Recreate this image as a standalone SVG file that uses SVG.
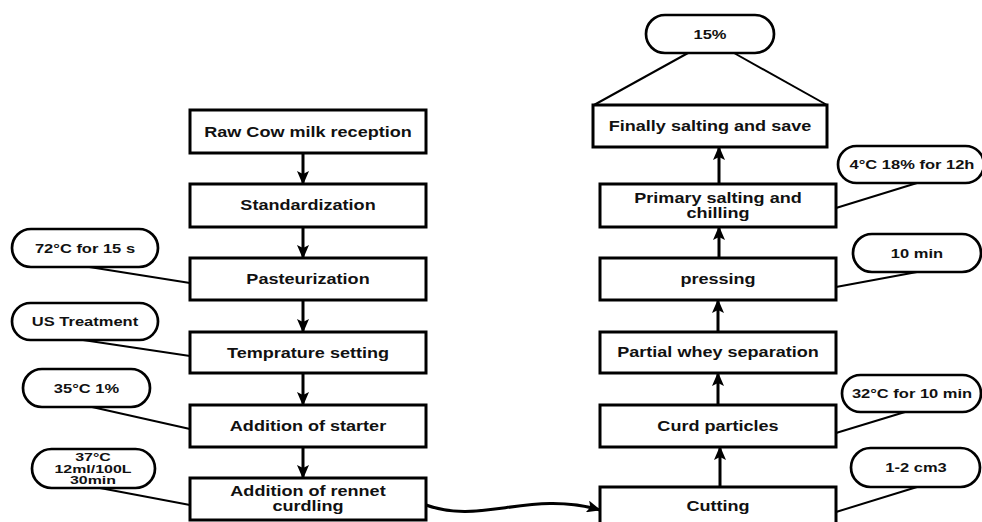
<svg xmlns="http://www.w3.org/2000/svg" width="982" height="522" viewBox="0 0 982 522">
<style>
.box{fill:#fff;stroke:#000;stroke-width:3}
.pill{fill:#fff;stroke:#000;stroke-width:2.7}
.t{font-family:"Liberation Sans",Arial,sans-serif;font-weight:bold;font-size:14px;fill:#111;text-anchor:middle}
.s{font-family:"Liberation Sans",Arial,sans-serif;font-weight:bold;font-size:13px;fill:#111;text-anchor:middle}
.xs{font-family:"Liberation Sans",Arial,sans-serif;font-weight:bold;font-size:11px;fill:#111;text-anchor:middle}
.arr{fill:none;stroke:#000;stroke-width:3;marker-end:url(#ah)}
.ln{fill:none;stroke:#000;stroke-width:2}
</style>
<defs>
<marker id="ah" viewBox="0 0 14 12" refX="13" refY="6" markerWidth="14" markerHeight="12" markerUnits="userSpaceOnUse" orient="auto">
<path d="M0,0 L14,6 L0,12 L3,6 z" fill="#000"/>
</marker>
</defs>
<rect x="0" y="0" width="982" height="522" fill="#fff"/>

<g id="connectors">
<line class="arr" x1="303" y1="153" x2="303" y2="184"/>
<line class="arr" x1="303" y1="227" x2="303" y2="258"/>
<line class="arr" x1="303" y1="300" x2="303" y2="332"/>
<line class="arr" x1="303" y1="373" x2="303" y2="405"/>
<line class="arr" x1="303" y1="447" x2="303" y2="478"/>
<path class="arr" d="M426,505 C480,525 530,490 600,510"/>
<line class="arr" x1="720" y1="487" x2="720" y2="447"/>
<line class="arr" x1="718" y1="405" x2="718" y2="373"/>
<line class="arr" x1="718" y1="332" x2="718" y2="300"/>
<line class="arr" x1="719" y1="258" x2="719" y2="227"/>
<line class="arr" x1="719" y1="184" x2="719" y2="147"/>
<line class="ln" x1="83" y1="266" x2="190" y2="283"/>
<line class="ln" x1="83" y1="340" x2="190" y2="356"/>
<line class="ln" x1="92" y1="407" x2="190" y2="429"/>
<line class="ln" x1="100" y1="488" x2="190" y2="505"/>
<line class="ln" x1="688" y1="53" x2="594" y2="105"/>
<line class="ln" x1="734" y1="53" x2="827" y2="105"/>
<line class="ln" x1="917" y1="183" x2="836" y2="208"/>
<line class="ln" x1="917" y1="272" x2="836" y2="287"/>
<line class="ln" x1="905" y1="412" x2="836" y2="433"/>
<line class="ln" x1="917" y1="487" x2="836" y2="512"/>
</g>

<g id="raw"><rect class="box" x="190" y="110" width="236" height="43"/><text class="t" transform="translate(308,136.5) scale(1.29,1)">Raw Cow milk reception</text></g>
<g id="standardization"><rect class="box" x="190" y="184" width="236" height="43"/><text class="t" transform="translate(308,210) scale(1.29,1)">Standardization</text></g>
<g id="pasteurization"><rect class="box" x="190" y="258" width="236" height="42"/><text class="t" transform="translate(308,284) scale(1.29,1)">Pasteurization</text></g>
<g id="temperature"><rect class="box" x="190" y="332" width="236" height="41"/><text class="t" transform="translate(308,357.5) scale(1.29,1)">Temprature setting</text></g>
<g id="starter"><rect class="box" x="190" y="405" width="236" height="42"/><text class="t" transform="translate(308,431) scale(1.29,1)">Addition of starter</text></g>
<g id="rennet"><rect class="box" x="190" y="478" width="236" height="42"/><text class="t" transform="translate(308,496) scale(1.29,1)">Addition of rennet</text><text class="t" transform="translate(308,511) scale(1.29,1)">curdling</text></g>

<g id="finally"><rect class="box" x="593" y="105" width="234" height="42"/><text class="t" transform="translate(710,131) scale(1.29,1)">Finally salting and save</text></g>
<g id="primary"><rect class="box" x="600" y="184" width="236" height="43"/><text class="t" transform="translate(718,203) scale(1.29,1)">Primary salting and</text><text class="t" transform="translate(718,218) scale(1.29,1)">chilling</text></g>
<g id="pressing"><rect class="box" x="600" y="258" width="236" height="42"/><text class="t" transform="translate(718,284) scale(1.29,1)">pressing</text></g>
<g id="whey"><rect class="box" x="600" y="332" width="236" height="41"/><text class="t" transform="translate(718,357) scale(1.29,1)">Partial whey separation</text></g>
<g id="curd"><rect class="box" x="600" y="405" width="236" height="42"/><text class="t" transform="translate(718,431) scale(1.29,1)">Curd particles</text></g>
<g id="cutting"><rect class="box" x="600" y="487" width="236" height="50"/><text class="t" transform="translate(718,511) scale(1.29,1)">Cutting</text></g>

<g id="p72"><rect class="pill" x="12" y="229" width="146" height="38" rx="19"/><text class="s" transform="translate(85,253) scale(1.27,1)">72°C for 15 s</text></g>
<g id="pus"><rect class="pill" x="12" y="303" width="146" height="37" rx="18.5"/><text class="s" transform="translate(85,326) scale(1.27,1)">US Treatment</text></g>
<g id="p35"><rect class="pill" x="23" y="369" width="127" height="38" rx="19"/><text class="s" transform="translate(86.5,393) scale(1.27,1)">35°C 1%</text></g>
<g id="p37"><rect class="pill" x="32" y="449" width="123" height="39" rx="19.5"/><text class="xs" transform="translate(93,461) scale(1.45,1)">37°C</text><text class="xs" transform="translate(93,472.5) scale(1.45,1)">12ml/100L</text><text class="xs" transform="translate(93,484) scale(1.45,1)">30min</text></g>
<g id="p15"><rect class="pill" x="646" y="15" width="128" height="38" rx="19"/><text class="s" transform="translate(710,39) scale(1.27,1)">15%</text></g>
<g id="p4"><rect class="pill" x="838" y="146" width="146" height="37" rx="18.5"/><text class="s" transform="translate(912,169) scale(1.27,1)">4°C 18% for 12h</text></g>
<g id="p10"><rect class="pill" x="853" y="234" width="128" height="38" rx="19"/><text class="s" transform="translate(917,258) scale(1.27,1)">10 min</text></g>
<g id="p32"><rect class="pill" x="842" y="375" width="139" height="37" rx="18.5"/><text class="s" transform="translate(912,398) scale(1.27,1)">32°C for 10 min</text></g>
<g id="p12"><rect class="pill" x="851" y="448" width="129" height="39" rx="19.5"/><text class="s" transform="translate(916,472) scale(1.27,1)">1-2 cm3</text></g>
</svg>
